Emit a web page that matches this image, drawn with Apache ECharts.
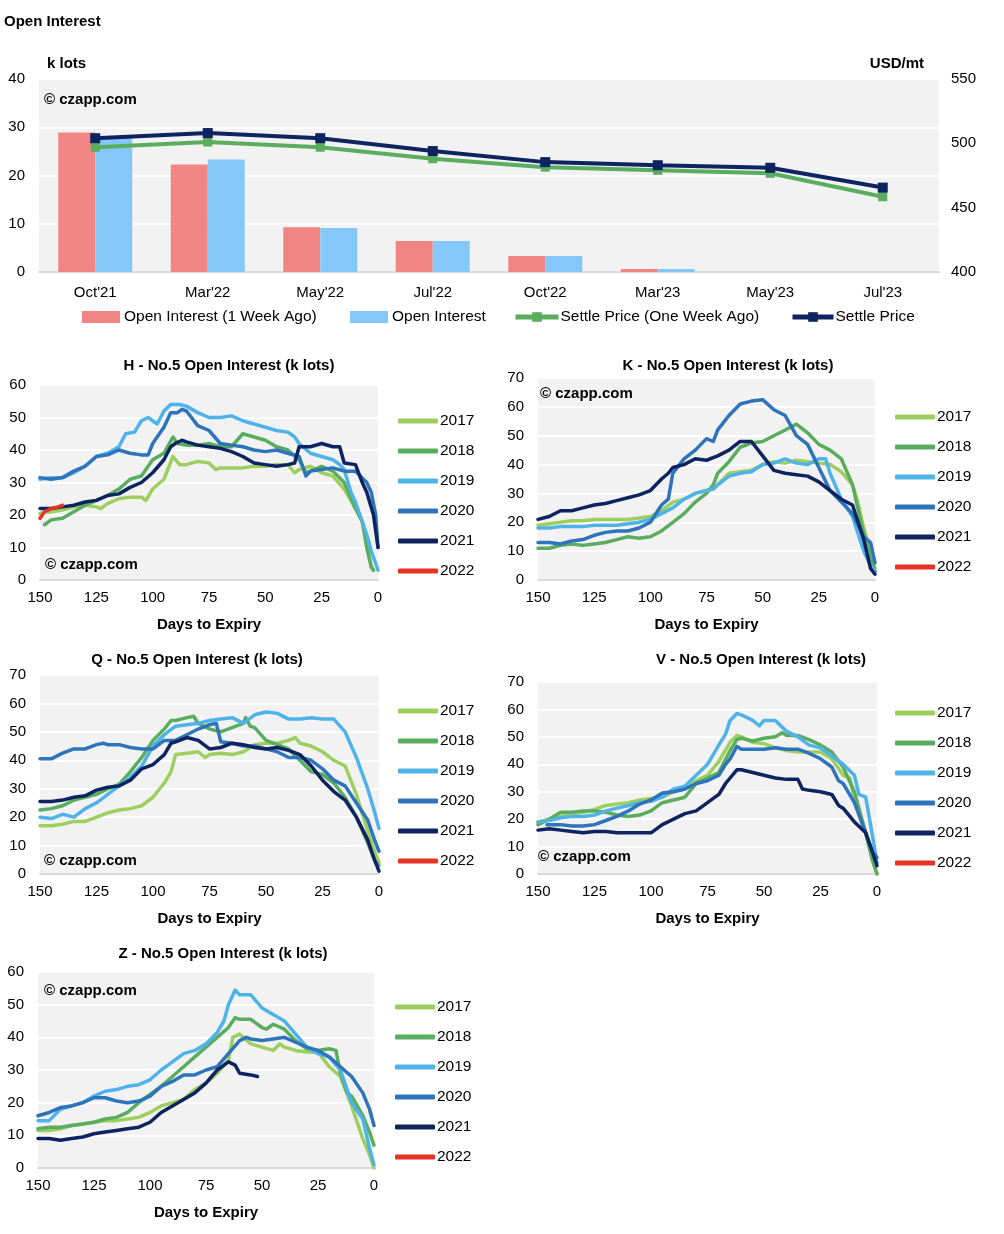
<!DOCTYPE html>
<html><head><meta charset="utf-8">
<script src="https://cdn.jsdelivr.net/npm/echarts@6/dist/echarts.min.js"></script>
<style>html,body{margin:0;padding:0;background:#fff}#c{width:1004px;height:1234px}</style>
</head><body><div id="c"></div>
<script>
// ---------- Top chart data ----------
const contracts = ["Oct'21","Mar'22","May'22","Jul'22","Oct'22","Mar'23","May'23","Jul'23"];
const oiWeekAgo = [28.9, 22.3, 9.3, 6.4, 3.3, 0.6, 0, 0];
const oiNow     = [27.8, 23.3, 9.1, 6.4, 3.3, 0.6, 0, 0];
const settleWeekAgo = [497, 501, 497, 488, 481.5, 479, 476.7, 458.5];
const settleNow     = [504, 508, 504, 494, 485.4, 483, 481, 465.6];
const leftTicks = [0, 40, 10];
const rightTicks = [400, 550, 50];

// ---------- Days-to-expiry charts: [day, k lots] ----------
const H2017 = [[150,20.5],[145,21],[140,21.5],[135,22.5],[130,23],[125,22.5],[123,22],[120,23.5],[115,25],[110,25.5],[105,25.5],[103,24.5],[100,28],[95,31],[91,38],[88,35.5],[85,35.5],[80,36.5],[75,36],[72,34],[70,34.5],[65,34.5],[60,34.5],[55,35],[50,35],[45,35.5],[40,35.5],[37,33],[35,34],[30,35],[25,33],[20,32],[15,28],[10,22],[7,18],[5,12],[3,4],[2,3]];
const H2018 = [[148,17],[145,18.5],[140,19],[135,21],[130,23],[125,24.5],[120,26],[115,28],[110,31],[105,32],[100,37],[95,39],[91,44],[89,42],[85,41.5],[80,41.5],[75,42],[70,41],[65,41],[60,45],[55,44],[50,43],[45,41],[40,40],[35,37],[32,33],[30,33.5],[25,35],[20,33.5],[15,30],[10,22],[7,18],[5,10],[3,4],[2,3]];
const H2019 = [[150,31],[145,31.5],[140,31.5],[135,33],[130,35],[125,38],[120,39],[115,41],[112,45],[108,45.5],[105,49],[102,50],[98,48],[95,52],[92,54],[88,54],[85,53.5],[80,51.5],[75,50],[70,50],[65,50.5],[60,49],[55,48],[50,47],[45,46],[40,45.5],[37,44],[35,42],[30,39],[25,38],[20,37],[17,35.5],[15,34],[12,27],[10,24],[5,14],[3,9],[0,3]];
const H2020 = [[150,31.5],[145,31],[140,31.5],[135,33.5],[130,35],[125,38],[120,38.5],[115,40],[110,39],[105,38.5],[102,38.5],[100,42],[95,47],[92,51.5],[89,51.5],[87,52.5],[85,52],[80,47.5],[75,46],[70,42],[65,41.5],[60,41],[55,40],[50,39.5],[45,40],[40,39],[35,38],[32,32],[30,33.5],[25,34],[20,34.5],[15,33.5],[10,33.5],[5,30],[3,27],[1,20],[0,10]];
const H2021 = [[150,22],[145,22],[140,22.5],[135,23],[130,24],[125,24.5],[120,26],[115,26.5],[110,28.5],[105,30],[100,33],[95,37],[92,41],[90,42],[87,43],[85,42.5],[80,41.5],[75,41],[70,40.5],[65,39.5],[60,38],[55,36],[50,35.5],[45,35],[40,35.5],[37,36],[35,41],[30,41],[25,42],[20,41],[17,41],[15,36],[10,35.5],[7,30],[5,27],[2,20],[0,10]];
const H2022 = [[150,19],[148,21],[145,22],[142,22.5],[140,23]];

const K2017 = [[150,19],[145,19.5],[140,20],[135,20.5],[130,20.5],[125,21],[120,21],[115,21],[110,21],[105,21.5],[100,22],[95,24],[90,27],[85,28],[80,30],[75,31],[72,31.5],[70,33],[65,37],[60,37.5],[55,38],[50,40],[45,41],[40,40.5],[35,41.5],[30,41],[25,40.5],[20,40],[15,37.5],[10,33],[8,28],[5,18],[2,10],[0,4]];
const K2018 = [[150,11],[145,11],[140,12],[135,12.5],[130,12],[125,12.5],[120,13],[115,14],[110,15],[105,14.5],[100,15],[95,17],[90,20],[85,23],[80,27],[75,30],[72,33],[70,37],[65,41],[60,46],[55,47.5],[50,48],[45,50],[40,52],[35,54],[30,51],[25,47],[20,45],[15,42],[10,33],[5,16],[2,8],[0,3]];
const K2019 = [[150,18],[145,18],[140,18.5],[135,18.5],[130,18.5],[125,19],[120,19],[115,19],[110,19.5],[105,20],[100,21],[95,23],[90,25],[85,28],[80,30],[75,31],[72,31.5],[70,33],[65,36],[60,37],[55,37.5],[50,40],[45,40.5],[40,42],[35,40.5],[30,40],[25,42],[22,42],[20,37],[15,28],[10,22],[5,10],[2,5],[0,3]];
const K2020 = [[150,13],[145,13],[140,12.5],[135,13.5],[130,14],[125,15.5],[120,16.5],[115,17],[110,17],[105,18],[100,20],[95,26],[92,28],[90,37],[87,40],[85,42],[80,45],[75,49],[72,48],[70,52],[65,57],[60,61],[55,62],[50,62.5],[45,59],[40,57],[35,50],[30,47],[25,39],[20,31],[15,27],[10,23],[5,15],[2,13],[0,6]];
const K2021 = [[150,21],[145,22],[140,24],[135,24],[130,25],[125,26],[120,26.5],[115,27.5],[110,28.5],[105,29.5],[100,31],[95,35],[92,37],[90,39],[85,40],[80,42],[75,41.5],[70,43],[65,45],[60,48],[55,48],[50,43],[45,38],[40,37],[35,36.5],[30,36],[25,34],[20,31],[15,28],[10,26],[5,14],[2,4],[0,2]];

const Q2017 = [[150,17],[145,17],[140,17.5],[135,18.5],[130,18.5],[125,20],[120,21.5],[115,22.5],[110,23],[105,24],[100,27],[95,32],[92,36],[90,42],[85,42.5],[80,43],[77,41],[75,42],[70,42.5],[65,42],[60,43],[55,45.5],[50,46],[45,46],[40,47],[37,48],[35,46],[30,45],[25,43],[20,40],[15,38],[10,28],[5,15],[2,8],[0,4]];
const Q2018 = [[150,22.5],[145,23],[140,24],[135,26],[130,27],[125,28],[120,30],[115,31.5],[110,36],[105,41],[100,47],[95,51],[92,54],[90,54],[85,55],[82,55.5],[80,53],[75,51],[70,50],[65,51.5],[60,53],[59,55],[57,52],[55,51.5],[50,47],[45,45.5],[40,44],[35,40],[30,36],[25,35],[20,32],[15,27],[10,20],[5,11],[2,5],[0,3]];
const Q2019 = [[150,20],[145,19.5],[140,21],[135,20],[130,23],[125,25],[120,28],[115,31],[110,34],[105,38],[100,45],[95,49],[90,52],[85,52.5],[80,53],[75,54],[70,54.5],[65,55],[60,53],[55,56],[50,57],[45,56.5],[40,54.5],[35,54.5],[30,55],[25,54.5],[20,54.5],[15,50],[10,41],[5,30],[2,22],[0,16]];
const Q2020 = [[150,40.5],[145,40.5],[140,42.5],[135,44],[130,44],[125,45.5],[122,46],[120,45.5],[115,45.5],[110,44.5],[105,44],[100,44],[95,47],[90,47],[85,49],[80,51],[75,52.5],[72,53],[70,46.5],[65,46],[60,45],[55,45],[50,44],[45,43],[40,41],[35,41],[30,40],[25,37],[20,33],[15,31],[10,25],[5,19],[2,12],[0,8]];
const Q2021 = [[150,25.5],[145,25.5],[140,26],[135,27],[130,27.5],[125,29.5],[120,30.5],[115,31],[110,33],[105,37],[100,38.5],[95,42],[92,46],[90,46.5],[85,48],[80,47],[75,44],[70,44.5],[65,46],[60,45.5],[55,44.5],[50,44],[45,44.5],[40,43.5],[35,42],[30,38],[25,33],[20,29],[15,26],[10,20],[5,12],[2,5],[0,1]];

const V2017 = [[150,19],[145,20],[140,21],[135,22],[130,22.5],[125,23.5],[120,25],[115,25.5],[110,26],[105,27],[100,27.5],[95,28],[90,30],[85,31],[80,34],[75,36],[70,41],[65,48],[62,50.5],[60,50],[55,48],[50,47.5],[45,46],[40,45],[35,44.5],[30,44.5],[25,44.5],[20,42],[15,36],[12,35],[10,27],[5,15],[2,5],[0,0]];
const V2018 = [[150,18],[145,20],[140,22.5],[135,22.5],[130,23],[125,23],[120,22.5],[115,21.5],[110,21],[105,21.5],[100,23],[95,26],[90,27],[85,28],[80,33],[75,35],[70,37],[65,45],[62,49],[60,49.5],[55,48.5],[50,49.5],[45,50],[42,51.5],[40,50.5],[35,50.5],[30,49],[25,47],[20,44.5],[15,39],[10,30],[5,15],[2,5],[0,0]];
const V2019 = [[150,19],[145,19.5],[140,20.5],[135,21],[130,21],[125,21.5],[120,23],[115,24],[110,25],[105,26],[100,26.5],[95,28],[90,31],[85,32],[80,36],[75,40],[70,47],[67,51],[65,56],[62,58.5],[60,58],[55,56],[52,54],[50,56],[45,56],[40,52],[35,50],[30,47],[25,46],[20,43],[15,40],[10,36],[8,29],[5,28],[2,14],[0,4]];
const V2020 = [[146,18],[140,18],[135,17.5],[130,17.5],[125,18],[120,19.5],[115,21],[110,23],[105,25.5],[100,27],[95,29.5],[90,30],[85,31],[80,33],[75,34],[70,36],[67,40],[65,42],[62,46.5],[60,45.5],[55,45.5],[50,45.5],[45,46],[40,45.5],[35,45.5],[30,44],[25,42],[20,39],[17,34],[15,33],[10,26],[5,15],[2,8],[0,6]];
const V2021 = [[150,16],[145,16.5],[140,16],[135,15.5],[130,15],[125,15.5],[120,15.5],[115,15],[110,15],[105,15],[100,15],[95,18],[90,20],[85,22],[80,23],[75,26],[70,29],[67,33],[65,35],[62,38],[60,38],[55,37],[50,36],[45,35],[40,34.5],[35,34.5],[33,31],[30,30.5],[25,30],[20,29],[17,25],[15,24],[10,19],[5,15],[2,8],[0,3]];

const Z2017 = [[150,11.5],[145,11.5],[140,12],[135,13],[130,13.5],[125,14],[120,14.5],[115,14.5],[110,15],[105,15.5],[100,17],[95,19],[90,20],[85,21],[80,24],[75,26],[70,29],[65,33],[63,40],[60,41],[55,38],[50,37],[45,36],[42,38],[40,37],[35,36],[30,35.5],[25,35.5],[20,31],[15,28],[10,19],[5,9],[2,4],[0,0]];
const Z2018 = [[150,12],[145,12.5],[140,12.5],[135,13],[130,13.5],[125,14],[120,15],[115,15.5],[110,17],[105,20],[100,22.5],[95,25],[90,28],[85,31],[80,34],[75,37],[70,40],[65,43],[62,46],[60,45.5],[55,45.5],[50,43],[48,42.5],[45,44],[40,42.5],[35,39],[30,36.5],[25,36],[20,36.5],[17,36],[15,29],[12,23],[10,22],[5,16],[2,11],[0,7]];
const Z2019 = [[150,14.5],[145,14.5],[140,18],[135,19],[130,20],[125,22],[120,23.5],[115,24],[110,25],[105,25.5],[100,27],[95,30],[90,32.5],[85,35],[80,36],[75,38],[70,41.5],[67,45],[65,50],[62,54.5],[60,53],[55,53],[50,49],[45,47],[40,45],[35,41],[30,37],[25,35],[20,34],[15,30],[10,20],[5,15],[2,6],[0,1]];
const Z2020 = [[150,16],[145,17],[140,18.5],[135,19],[130,20],[125,21.5],[120,21.5],[115,20.5],[110,20],[105,20.5],[100,22],[95,25],[90,26.5],[85,28.5],[80,28.5],[75,30],[70,31],[65,35],[60,39],[57,40],[55,39.5],[50,39],[45,39.5],[40,40],[35,38.5],[30,37],[25,36],[20,34],[15,31],[10,28],[5,23],[2,18],[0,13]];
const Z2021 = [[150,9],[145,9],[140,8.5],[135,9],[130,9.5],[125,10.5],[120,11],[115,11.5],[110,12],[105,12.5],[100,14],[95,17],[90,19],[85,21],[80,23],[75,26],[70,30],[65,32.5],[62,31.5],[60,29],[55,28.5],[52,28]];

const years = ['2017','2018','2019','2020','2021','2022'];
const dayTicks = [0, 150, 25];

// ---------- styling ----------
const FONT = "'Liberation Sans', Arial, sans-serif";
const yearColor = {'2017':'#9dcf5f','2018':'#5aad5e','2019':'#4fb3ea','2020':'#2e74bb','2021':'#0d2461','2022':'#e63323'};
const BG = '#f2f2f2';

const panels = [
  {key:'H', title:'H - No.5 Open Interest (k lots)', max:60, grid:{left:40,top:385,width:338,height:195}, tx:229, ty:366, leg:{left:398,top:413}, wm:{x:45,y:565},
   data:{'2017':H2017,'2018':H2018,'2019':H2019,'2020':H2020,'2021':H2021,'2022':H2022}},
  {key:'K', title:'K - No.5 Open Interest (k lots)', max:70, grid:{left:538,top:378,width:337,height:202}, tx:728, ty:366, leg:{left:895,top:409}, wm:{x:540,y:394},
   data:{'2017':K2017,'2018':K2018,'2019':K2019,'2020':K2020,'2021':K2021}},
  {key:'Q', title:'Q - No.5 Open Interest (k lots)', max:70, grid:{left:40,top:675,width:339,height:199}, tx:197, ty:660, leg:{left:398,top:703}, wm:{x:44,y:861},
   data:{'2017':Q2017,'2018':Q2018,'2019':Q2019,'2020':Q2020,'2021':Q2021}},
  {key:'V', title:'V - No.5 Open Interest (k lots)', max:70, grid:{left:538,top:682,width:339,height:192}, tx:761, ty:660, leg:{left:895,top:705}, wm:{x:538,y:857},
   data:{'2017':V2017,'2018':V2018,'2019':V2019,'2020':V2020,'2021':V2021}},
  {key:'Z', title:'Z - No.5 Open Interest (k lots)', max:60, grid:{left:38,top:972,width:336,height:196}, tx:223, ty:954, leg:{left:395,top:999}, wm:{x:44,y:991},
   data:{'2017':Z2017,'2018':Z2018,'2019':Z2019,'2020':Z2020,'2021':Z2021}}
];

const labelStyle = {fontSize:15, color:'#000', fontFamily:FONT};
const grids = [{left:39, top:79, width:900, height:193, show:true, backgroundColor:BG, borderWidth:0}];
const xAxes = [{type:'category', gridIndex:0, data:contracts,
  axisLine:{lineStyle:{color:'#d9d9d9', width:2}}, axisTick:{show:false},
  axisLabel:Object.assign({margin:13}, labelStyle), splitLine:{show:false}}];
const yAxes = [
  {type:'value', gridIndex:0, min:leftTicks[0], max:leftTicks[1], interval:leftTicks[2],
   axisLine:{show:false}, axisTick:{show:false}, axisLabel:Object.assign({margin:14}, labelStyle),
   splitLine:{lineStyle:{color:'#ffffff', width:2}}},
  {type:'value', gridIndex:0, position:'right', min:rightTicks[0], max:rightTicks[1], interval:rightTicks[2],
   axisLine:{show:false}, axisTick:{show:false}, axisLabel:Object.assign({margin:12}, labelStyle),
   splitLine:{show:false}}
];
const series = [
  {type:'bar', name:'Open Interest (1 Week Ago)', xAxisIndex:0, yAxisIndex:0, data:oiWeekAgo, barWidth:37, barGap:'0%', itemStyle:{color:'#f08584'}, z:2},
  {type:'bar', name:'Open Interest', xAxisIndex:0, yAxisIndex:0, data:oiNow, barWidth:37, barGap:'0%', itemStyle:{color:'#83c8f8'}, z:2},
  {type:'line', name:'Settle Price (One Week Ago)', xAxisIndex:0, yAxisIndex:1, data:settleWeekAgo, symbol:'rect', symbolSize:9,
   lineStyle:{color:'#5aad5e', width:4}, itemStyle:{color:'#5aad5e'}, z:5},
  {type:'line', name:'Settle Price', xAxisIndex:0, yAxisIndex:1, data:settleNow, symbol:'rect', symbolSize:10,
   lineStyle:{color:'#0d2461', width:4}, itemStyle:{color:'#0d2461'}, z:6}
];
const topLegendBase = {orient:'horizontal', top:309, padding:0, itemHeight:12, itemGap:10, itemStyle:{borderWidth:0},
  textStyle:{fontSize:15.5, color:'#000', fontFamily:FONT, padding:[0,0,0,-1]}, selectedMode:false};
const legends = [
  Object.assign({}, topLegendBase, {left:82, itemWidth:38, icon:'rect', data:['Open Interest (1 Week Ago)']}),
  Object.assign({}, topLegendBase, {left:350, itemWidth:38, icon:'rect', data:['Open Interest']}),
  Object.assign({}, topLegendBase, {left:513, itemWidth:43, lineStyle:{width:5}, textStyle:{fontSize:15.5, color:'#000', fontFamily:FONT, padding:[0,0,0,-3]}, data:['Settle Price (One Week Ago)']}),
  Object.assign({}, topLegendBase, {left:790, itemWidth:41, lineStyle:{width:5}, textStyle:{fontSize:15.5, color:'#000', fontFamily:FONT, padding:[0,0,0,-3]}, data:['Settle Price']})
];
const graphics = [
  {type:'text', x:4, y:22, style:{text:'Open Interest', font:'bold 15px '+FONT, fill:'#000', align:'left', verticalAlign:'middle'}},
  {type:'text', x:47, y:64, style:{text:'k lots', font:'bold 15px '+FONT, fill:'#000', align:'left', verticalAlign:'middle'}},
  {type:'text', x:924, y:64, style:{text:'USD/mt', font:'bold 15px '+FONT, fill:'#000', align:'right', verticalAlign:'middle'}},
  {type:'text', x:44, y:100, z:10, style:{text:'© czapp.com', font:'bold 15px '+FONT, fill:'#000', align:'left', verticalAlign:'middle'}}
];

panels.forEach((p, i) => {
  const gi = i + 1;
  grids.push(Object.assign({show:true, backgroundColor:BG, borderWidth:0}, p.grid));
  xAxes.push({type:'value', gridIndex:gi, inverse:true, min:dayTicks[0], max:dayTicks[1], interval:dayTicks[2],
    axisLine:{show:true, onZero:false, lineStyle:{color:'#d9d9d9', width:2}}, axisTick:{show:false},
    axisLabel:Object.assign({margin:10}, labelStyle), splitLine:{show:false},
    name:'Days to Expiry', nameLocation:'middle', nameGap:37,
    nameTextStyle:{fontSize:15, fontWeight:'bold', color:'#000', fontFamily:FONT}});
  yAxes.push({type:'value', gridIndex:gi, min:0, max:p.max, interval:10,
    axisLine:{show:false}, axisTick:{show:false}, axisLabel:Object.assign({margin:14}, labelStyle),
    splitLine:{lineStyle:{color:'#ffffff', width:2}}});
  years.forEach(y => {
    if (!p.data[y]) return;
    series.push({type:'line', name:y, xAxisIndex:gi, yAxisIndex:gi+1, data:p.data[y],
      symbol:'none', showSymbol:false, smooth:false,
      lineStyle:{color:yearColor[y], width:3.5, cap:'round', join:'round'}, itemStyle:{color:yearColor[y]}});
  });
  legends.push({orient:'vertical', left:p.leg.left, top:p.leg.top, padding:0, icon:'roundRect', itemWidth:40, itemHeight:5,
    itemGap:14, selectedMode:false, data:years,
    textStyle:{fontSize:15.5, color:'#000', fontFamily:FONT, lineHeight:16, padding:[0,0,0,-3]}});
  graphics.push({type:'text', x:p.tx, y:p.ty, style:{text:p.title, font:'bold 15px '+FONT, fill:'#000', align:'center', verticalAlign:'middle'}});
  graphics.push({type:'text', x:p.wm.x, y:p.wm.y, z:10, style:{text:'© czapp.com', font:'bold 15px '+FONT, fill:'#000', align:'left', verticalAlign:'middle'}});
});

const chart = echarts.init(document.getElementById('c'), null, {renderer:'canvas'});
chart.setOption({
  animation:false,
  textStyle:{fontFamily:FONT},
  grid:grids, xAxis:xAxes, yAxis:yAxes, series:series, legend:legends, graphic:graphics
});
</script></body></html>
